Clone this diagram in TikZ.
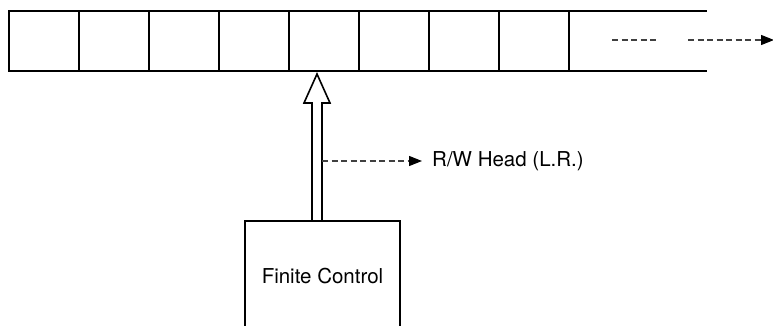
\documentclass[tikz,border=0pt]{standalone}
\usepackage{fontspec}
\setmainfont{TeX Gyre Heros}
\usetikzlibrary{arrows.meta,positioning,calc}

\begin{document}
\begin{tikzpicture}[x=1pt, y=-1pt,
  cell/.style={draw, line width=2pt, minimum width=70pt, minimum height=60pt, inner sep=0pt, outer sep=0pt},
  ctrlbox/.style={draw, line width=2pt, minimum width=155pt, minimum height=110pt, font=\fontsize{20.5}{24}\selectfont},
  hollow/.style={line width=1.6pt, fill=white},
  move/.style={line width=1.1pt, draw=black!75, dash pattern=on 6pt off 3.5pt},
  movetip/.style={move, -{Triangle[length=13pt, width=10pt, black]}}]
  \useasboundingbox (0,0) rectangle (773,326);
  \clip (0,0) rectangle (773,326);
  % tape
  \foreach \i in {1,...,8}
    \node[cell] (c\i) at ({44+70*(\i-1)},41) {};
  \draw[line width=2pt] (c8.north east) -- ++(138,0);
  \draw[line width=2pt] (c8.south east) -- ++(138,0);
  \coordinate (d1) at (612,40);
  \coordinate (d2) at (658,40);
  \coordinate (d3) at (688,40);
  \coordinate (d4) at (774,40);
  \draw[move] (d1) -- (d2);
  \draw[movetip] (d3) -- (d4);
  % control unit
  \node[ctrlbox] (ctrl) at (322.5,276) {Finite Control};
  \coordinate (tip) at (317,74);
  \draw[hollow] (tip) -- ++(13,29) -- ++(-8,0) -- (322,221) -- (312,221) -- (312,103) -- ++(-8,0) -- cycle;
  \coordinate (shaft) at (322,161);
  \node[anchor=west, inner sep=0pt, font=\fontsize{20.5}{24}\selectfont] (rw) at (432,161) {R/W Head (L.R.)};
  \draw[movetip, shorten >=10pt] (shaft) -- (rw.west);
\end{tikzpicture}
\end{document}
